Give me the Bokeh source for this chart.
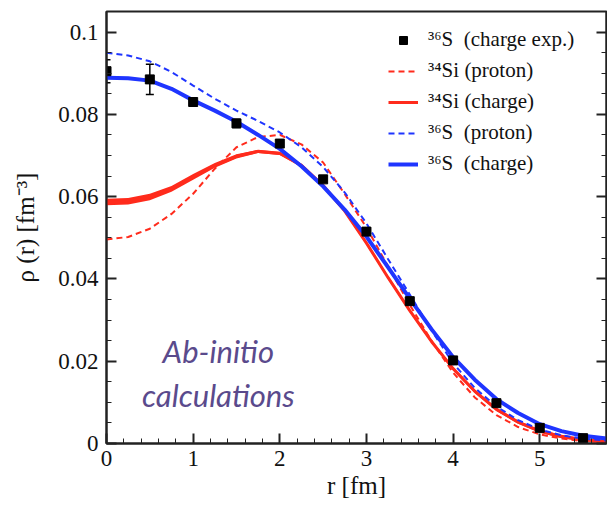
from bokeh.plotting import figure
from bokeh.models import (Range1d, FixedTicker, LinearAxis, Legend, LegendItem,
                          Whisker, TeeHead, ColumnDataSource, Label)
from bokeh.embed import file_html
from bokeh.resources import INLINE

# ---------------- data ----------------
r_grid = [0.0, 0.25, 0.5, 0.75, 1.0, 1.25, 1.5, 1.75, 2.0, 2.25, 2.5, 2.75,
          3.0, 3.25, 3.5, 3.75, 4.0, 4.25, 4.5, 4.75, 5.0, 5.25, 5.5, 5.77]

s36_charge = [0.0889, 0.0888, 0.0882, 0.0862, 0.0834, 0.0809, 0.0782, 0.0750,
              0.0716, 0.0674, 0.0625, 0.0568, 0.0503, 0.0428, 0.0352, 0.0278,
              0.0210, 0.0155, 0.0108, 0.0074, 0.0047, 0.0030, 0.0019, 0.0012]

s36_proton = [0.0950, 0.0943, 0.0929, 0.0903, 0.0870, 0.0838, 0.0809, 0.0784,
              0.0756, 0.0720, 0.0672, 0.0610, 0.0535, 0.0448, 0.0362, 0.0275,
              0.0195, 0.0135, 0.0090, 0.0057, 0.0034, 0.0020, 0.0012, 0.0007]

si34_proton = [0.0496, 0.0502, 0.0522, 0.0558, 0.0607, 0.0668, 0.0720, 0.0745,
               0.0750, 0.0727, 0.0683, 0.0606, 0.0525, 0.0430, 0.0337, 0.0250,
               0.0172, 0.0112, 0.0069, 0.0040, 0.0022, 0.0012, 0.0006, 0.0003]

si34_charge = [0.0587, 0.0589, 0.0599, 0.0619, 0.0648, 0.0676, 0.0698, 0.0710,
               0.0705, 0.0676, 0.0627, 0.0565, 0.0487, 0.0403, 0.0323, 0.0248,
               0.0182, 0.0127, 0.0083, 0.0052, 0.0030, 0.0017, 0.0009, 0.0005]

si34_charge_lo = [0.0579, 0.0581, 0.0591, 0.0612, 0.0641, 0.0670, 0.0693, 0.0706,
                  0.0701, 0.0672, 0.0623, 0.0561, 0.0483, 0.0399, 0.0319, 0.0244,
                  0.0178, 0.0123, 0.0079, 0.0048, 0.0026, 0.0013, 0.0005, 0.0002]

si34_charge_hi = [0.0595, 0.0597, 0.0607, 0.0626, 0.0655, 0.0682, 0.0703, 0.0714,
                  0.0709, 0.0680, 0.0631, 0.0569, 0.0491, 0.0407, 0.0327, 0.0252,
                  0.0186, 0.0131, 0.0087, 0.0056, 0.0034, 0.0021, 0.0013, 0.0008]

exp_r = [0.0, 0.5, 1.0, 1.5, 2.0, 2.5, 3.0, 3.5, 4.0, 4.5, 5.0, 5.5]
exp_rho = [0.0905, 0.0885, 0.0830, 0.0778, 0.0729, 0.0642, 0.0515, 0.0346,
           0.0202, 0.0098, 0.0038, 0.0013]
exp_err = [0.0028, 0.0037, 0.0010, 0.0010, 0.0008, 0.0006, 0.0006, 0.0006,
           0.0005, 0.0005, 0.0004, 0.0003]

x_tick_values = [0, 1, 2, 3, 4, 5]
x_tick_labels = ["0", "1", "2", "3", "4", "5"]
y_tick_values = [0.0, 0.02, 0.04, 0.06, 0.08, 0.1]
y_tick_labels = ["0", "0.02", "0.04", "0.06", "0.08", "0.1"]

legend_labels = ["\u00b3\u2076S  (charge exp.)", "\u00b3\u2074Si (proton)",
                 "\u00b3\u2074Si (charge)", "\u00b3\u2076S  (proton)",
                 "\u00b3\u2076S  (charge)"]
annotation_lines = ["Ab-initio", "calculations"]

# ---------------- styling ----------------
RED = "#ff2b1c"
BLUE = "#1f35ff"
AXIS = "#222222"
SERIF = "Liberation Serif"

x_minor = [i * 0.2 for i in range(0, 29)]
y_minor = [i * 0.005 for i in range(0, 22)]

p = figure(width=607, height=508, output_backend="svg", toolbar_location=None,
           x_range=Range1d(0, 5.77), y_range=Range1d(0, 0.105),
           min_border_left=106, min_border_right=1, min_border_top=11,
           min_border_bottom=65, x_axis_label="r [fm]",
           y_axis_label="\u03c1 (r) [fm\u207b\u00b3]")
p.grid.visible = False
p.outline_line_color = AXIS
p.outline_line_width = 2
p.background_fill_color = "white"
p.border_fill_color = "white"

xt = FixedTicker(ticks=x_tick_values, minor_ticks=x_minor)
yt = FixedTicker(ticks=y_tick_values, minor_ticks=y_minor)
p.xaxis.ticker = xt
p.yaxis.ticker = yt
p.xaxis.major_label_overrides = {v: l for v, l in zip(x_tick_values, x_tick_labels)}
p.yaxis.major_label_overrides = {v: l for v, l in zip(y_tick_values, y_tick_labels)}

for ax in (p.xaxis[0], p.yaxis[0]):
    ax.axis_line_color = AXIS
    ax.axis_line_width = 2
    ax.major_tick_line_color = AXIS
    ax.minor_tick_line_color = AXIS
    ax.major_tick_line_width = 2
    ax.minor_tick_line_width = 1
    ax.major_tick_in = 10
    ax.major_tick_out = 0
    ax.minor_tick_in = 5
    ax.minor_tick_out = 0
    ax.major_label_text_font = SERIF
    ax.major_label_text_font_size = "23px"
    ax.major_label_text_color = "#111111"
    ax.axis_label_text_font = SERIF
    ax.axis_label_text_font_size = "25px"
    ax.axis_label_text_font_style = "normal"
    ax.axis_label_text_color = "#111111"

p.xaxis.major_label_standoff = 7
p.xaxis.axis_label_standoff = 3
p.yaxis.major_label_standoff = 8
p.yaxis.axis_label_standoff = 16

right = LinearAxis(ticker=FixedTicker(ticks=y_tick_values, minor_ticks=y_minor),
                   axis_line_color=AXIS, axis_line_width=2,
                   major_tick_line_color=AXIS, minor_tick_line_color=AXIS,
                   major_tick_line_width=2, major_tick_in=10, major_tick_out=0,
                   minor_tick_in=5, minor_tick_out=0,
                   major_label_overrides={v: "" for v in y_tick_values},
                   major_label_standoff=0)
p.add_layout(right, "right")

# ---------------- curves ----------------
p.varea(x=r_grid, y1=si34_charge_lo, y2=si34_charge_hi, fill_color=RED)
l_rp = p.line(r_grid, si34_proton, line_color=RED, line_width=2, line_dash="6 4")
l_rc = p.line(r_grid, si34_charge, line_color=RED, line_width=3)
l_bp = p.line(r_grid, s36_proton, line_color=BLUE, line_width=2, line_dash="6 4")
l_bc = p.line(r_grid, s36_charge, line_color=BLUE, line_width=4)

src = ColumnDataSource(dict(r=exp_r, rho=exp_rho,
                            lo=[v - e for v, e in zip(exp_rho, exp_err)],
                            hi=[v + e for v, e in zip(exp_rho, exp_err)]))
wh = Whisker(base="r", lower="lo", upper="hi", source=src, line_color="black",
             line_width=1.5,
             lower_head=TeeHead(size=8, line_color="black", line_width=1.5),
             upper_head=TeeHead(size=8, line_color="black", line_width=1.5))
p.add_layout(wh)
sq = p.scatter("r", "rho", source=src, marker="square", size=9,
               fill_color="black", line_color="black")

legend = Legend(items=[
    LegendItem(label=legend_labels[0], renderers=[sq]),
    LegendItem(label=legend_labels[1], renderers=[l_rp]),
    LegendItem(label=legend_labels[2], renderers=[l_rc]),
    LegendItem(label=legend_labels[3], renderers=[l_bp]),
    LegendItem(label=legend_labels[4], renderers=[l_bc]),
], location=(282, 267), background_fill_alpha=0, border_line_alpha=0,
    label_text_font=SERIF, label_text_font_size="21px", label_text_color="#111111",
    glyph_width=30, glyph_height=20, label_height=20, spacing=6, padding=0,
    margin=0, label_standoff=10)
p.add_layout(legend)

for txt, yv in zip(annotation_lines, [0.0224, 0.0118]):
    p.add_layout(Label(x=1.29, y=yv, text=txt, text_align="center",
                       text_baseline="alphabetic", text_font="Lato",
                       text_font_style="italic", text_font_size="31px",
                       text_color="#5a4a8c"))

open("out.html", "w").write(file_html(p, INLINE))
